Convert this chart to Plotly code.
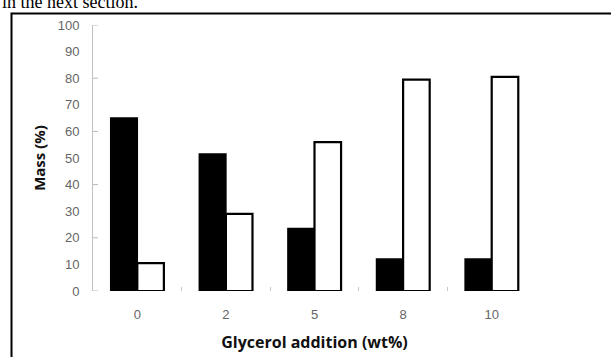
import plotly.graph_objects as go

# glycerol addition (wt%) and mass fractions
categories = ["0", "2", "5", "8", "10"]
black_mass = [65, 51.5, 23.5, 12, 12]
white_mass = [10.5, 29, 56, 79.5, 80.5]
y_ticks = list(range(0, 101, 10))

fig = go.Figure()
fig.add_trace(go.Bar(x=categories, y=black_mass, name="Series 1",
                     marker=dict(color="black", line=dict(color="black", width=1.5))))
fig.add_trace(go.Bar(x=categories, y=white_mass, name="Series 2",
                     marker=dict(color="white", line=dict(color="black", width=2.2))))

W, H = 611, 357
L, R, T, B = 93, 75, 25, 66
pw, ph = W - L - R, H - T - B

def px_x(p):
    return (p - L) / pw

def px_y(p):
    return (H - B - p) / ph

shapes = []
# surrounding frame of the page figure
shapes.append(dict(type="rect", xref="paper", yref="paper",
                   x0=px_x(11.5), x1=px_x(640), y0=px_y(13.5), y1=px_y(390),
                   line=dict(color="black", width=2), fillcolor="rgba(0,0,0,0)", layer="below"))
# inside ticks on y axis every 20
for v in range(0, 101, 20):
    shapes.append(dict(type="line", xref="paper", yref="y", x0=0, x1=5 / pw, y0=v, y1=v,
                       line=dict(color="#b8b8b8", width=1)))

fig.update_layout(
    width=W, height=H,
    margin=dict(l=L, r=R, t=T, b=B, autoexpand=False),
    paper_bgcolor="white", plot_bgcolor="white",
    barmode="group", bargap=0.4, bargroupgap=0,
    showlegend=False,
    shapes=shapes,
    font=dict(family="Open Sans", color="#333"),
    annotations=[dict(text="in the next section.", xref="paper", yref="paper",
                      x=px_x(0), y=px_y(14), xanchor="left", yanchor="bottom",
                      showarrow=False, font=dict(family="Liberation Serif", size=18, color="black"))],
)
fig.update_xaxes(showline=False, showgrid=False, tickson="boundaries", ticks="inside",
                 ticklen=4, tickcolor="#c8c8c8", ticklabelstandoff=14,
                 tickfont=dict(family="Liberation Sans", size=13, color="#666"),
                 title=dict(text="<b>Glycerol addition (wt%)</b>", standoff=15,
                            font=dict(family="Open Sans", size=16, color="#111")))
fig.update_yaxes(range=[0, 100], tickvals=y_ticks, showgrid=False, zeroline=False,
                 showline=True, linecolor="#c0c0c0", linewidth=1, ticks="",
                 ticklabelstandoff=10,
                 tickfont=dict(family="Liberation Sans", size=13, color="#666"),
                 title=dict(text="<b>Mass (%)</b>", standoff=8,
                            font=dict(family="Open Sans", size=15, color="#111")))

fig.write_html("out.html", config={"displayModeBar": False},
               post_script="document.body.style.margin='0';")
